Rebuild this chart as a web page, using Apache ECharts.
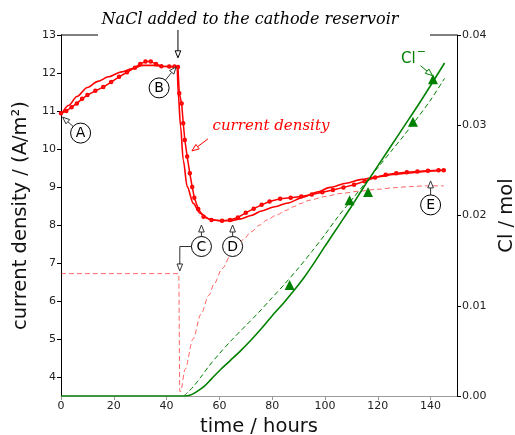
<!DOCTYPE html>
<html>
<head>
<meta charset="utf-8">
<script src="https://cdn.jsdelivr.net/npm/echarts@6/dist/echarts.min.js"></script>
<style>html,body{margin:0;padding:0;background:#fff}#main{width:515px;height:435px}</style>
</head>
<body>
<div id="main"></div>
<script>
// ---- data ----
const timeModel = [0,3,6,10,14,18,23,27,31,35,40,44,44.4,45.3,46.3,47.8,50.1,52.6,56.4,60.2,64,68,72,76,81,86,92,97,102,108,114,120,126,132,138,145];
const cdModel   = [10.9,11.15,11.38,11.62,11.78,11.9,12.03,12.12,12.2,12.2,12.17,12.16,11.47,10.59,9.71,9.01,8.57,8.31,8.15,8.11,8.11,8.16,8.25,8.37,8.48,8.58,8.74,8.87,8.99,9.1,9.2,9.27,9.33,9.37,9.41,9.44];

const timeData = [0,2,4,6,8,10,13,16,19,22,25,28,30,32,34,36,38,41,43,44.3,44.8,45.7,46.3,46.9,47.8,48.8,49.7,50.5,52,54,57,61,64,67,70,73,76,79,83,87,91,95,99,103,107,111,115,119,123,127,131,135,139,143,145];
const cdData   = [10.94,11.0,11.1,11.2,11.32,11.42,11.53,11.63,11.76,11.9,12.02,12.14,12.24,12.3,12.3,12.24,12.18,12.17,12.17,12.16,11.47,11.2,10.68,10.24,9.8,9.36,9.0,8.72,8.42,8.22,8.13,8.11,8.13,8.2,8.32,8.43,8.53,8.62,8.69,8.72,8.75,8.8,8.86,8.92,8.99,9.06,9.15,9.25,9.32,9.36,9.39,9.41,9.43,9.44,9.44];

const timeDash = [0,44.6,45.0,45.3,47,50,53,56,58,61,65,69,72,75.3,78,81.6,85,88,91,94,100,106,113,120,126,132,138,145];
const cdDash   = [6.72,6.72,3.62,3.62,4.2,5.0,5.65,6.15,6.45,6.85,7.3,7.61,7.82,8.0,8.13,8.26,8.38,8.48,8.57,8.65,8.75,8.83,8.89,8.94,8.98,9.01,9.03,9.03];

const timeCl  = [0,47,49,51,54,57,60,64,68,72,76,80,84,88,92,96,100,105,110,115,120,125,130,135,140,145.3];
const clSolid = [0,0,0.0001,0.0004,0.0010,0.0019,0.0028,0.0039,0.0050,0.0062,0.0075,0.0089,0.0102,0.0116,0.0131,0.0148,0.0166,0.0188,0.0210,0.0233,0.0255,0.0277,0.0299,0.0321,0.0344,0.0369];

const timeClDash = [46.5,48,50,53,56,60,65,70,75,80,85,90,95,100,105,110,115,120,125,130,135,140,145.3];
const clDash     = [0,0.0004,0.0010,0.0021,0.0033,0.0047,0.0063,0.0078,0.0093,0.0109,0.0125,0.0142,0.0160,0.0179,0.0199,0.0217,0.0235,0.0253,0.0271,0.0289,0.0308,0.0328,0.0352];

const timeClPts = [86.6,109.3,116.3,133.3,140.9];
const clPts     = [0.0123,0.0217,0.0226,0.0304,0.0351];

const xTicks  = [0,20,40,60,80,100,120,140];
const cdTicks = [4,5,6,7,8,9,10,11,12,13];
const clTicks = [0,0.01,0.02,0.03,0.04];

const zip = (a, b) => a.map((v, i) => [v, b[i]]);

const FONT = 'DejaVu Sans';
const RED = '#ff0000', GREEN = '#008000';

const chart = echarts.init(document.getElementById('main'), null, {renderer: 'canvas'});

chart.setOption({
  animation: false,
  backgroundColor: '#fff',
  grid: {left: 61, top: 35, right: 58, bottom: 39, outerBoundsMode: 'none', containLabel: false},
  xAxis: {
    type: 'value', min: 0, max: 150,
    axisLine: {show: true, lineStyle: {color: '#9a9a9a', width: 1}},
    axisTick: {show: true, length: 4, customValues: xTicks, lineStyle: {color: '#9a9a9a'}},
    axisLabel: {customValues: xTicks, fontSize: 11, fontFamily: FONT, color: '#222', margin: 5},
    splitLine: {show: false},
    name: 'time / hours', nameLocation: 'middle', nameGap: 15,
    nameTextStyle: {fontSize: 19.5, fontFamily: FONT, color: '#111'}
  },
  yAxis: [{
    type: 'value', min: 3.5, max: 13, position: 'left',
    axisLine: {show: true, onZero: false, lineStyle: {color: '#000', width: 1}},
    axisTick: {show: true, length: 4, customValues: cdTicks, lineStyle: {color: '#000'}},
    axisLabel: {customValues: cdTicks, fontSize: 11, fontFamily: FONT, color: '#222', margin: 5},
    splitLine: {show: false},
    name: 'current density / (A/m²)', nameLocation: 'middle', nameGap: 29, nameRotate: 90,
    nameTextStyle: {fontSize: 19.5, fontFamily: FONT, color: '#111'}
  }, {
    type: 'value', min: 0, max: 0.04, position: 'right',
    axisLine: {show: true, onZero: false, lineStyle: {color: '#000', width: 1}},
    axisTick: {show: true, length: 4, customValues: clTicks, lineStyle: {color: '#000'}},
    axisLabel: {customValues: clTicks, fontSize: 11, fontFamily: FONT, color: '#222', margin: 5,
      formatter: v => v.toFixed(2)},
    splitLine: {show: false},
    name: 'Cl / mol', nameLocation: 'middle', nameGap: 29, nameRotate: 90,
    nameTextStyle: {fontSize: 19.5, fontFamily: FONT, color: '#111'}
  }],
  series: [
    {name: 'model dashed', type: 'line', data: zip(timeDash, cdDash), showSymbol: false, smooth: 0.3, smoothMonotone: 'x',
     lineStyle: {color: 'rgba(255,0,0,0.6)', width: 1, type: [5, 3]}, z: 2},
    {name: 'model', type: 'line', data: zip(timeModel, cdModel), showSymbol: false, smooth: 0.3, smoothMonotone: 'x',
     lineStyle: {color: RED, width: 1.6}, z: 3},
    {name: 'current density', type: 'line', data: zip(timeData, cdData), symbol: 'emptyCircle', symbolSize: 2.5,
     itemStyle: {color: RED, borderWidth: 0.8}, lineStyle: {color: RED, width: 1.5}, z: 4},
    {name: 'Cl model dashed', type: 'line', yAxisIndex: 1, data: zip(timeClDash, clDash), showSymbol: false, smooth: 0.3,
     lineStyle: {color: GREEN, width: 1, type: [5, 3]}, z: 5},
    {name: 'Cl model', type: 'line', yAxisIndex: 1, data: zip(timeCl, clSolid), showSymbol: false, smooth: 0.3,
     lineStyle: {color: GREEN, width: 1.6}, z: 6},
    {name: 'Cl', type: 'scatter', yAxisIndex: 1, data: zip(timeClPts, clPts), symbol: 'triangle', symbolSize: 10,
     itemStyle: {color: GREEN, opacity: 1}, z: 7}
  ]
});

// ---- annotations ----
const P = (h, v, yi) => chart.convertToPixel({xAxisIndex: 0, yAxisIndex: yi || 0}, [h, v]);
const els = [];
function arrow(x1, y1, x2, y2, color) {
  const dx = x2 - x1, dy = y2 - y1, d = Math.hypot(dx, dy), ux = dx / d, uy = dy / d;
  const L = 7, W = 2.8;
  const bx = x2 - ux * L, by = y2 - uy * L;
  els.push({type: 'line', z: 100, shape: {x1: x1, y1: y1, x2: bx, y2: by}, style: {stroke: color, lineWidth: 1}});
  els.push({type: 'polygon', z: 101, shape: {points: [[x2, y2], [bx - uy * W, by + ux * W], [bx + uy * W, by - ux * W]]},
    style: {fill: '#fff', stroke: color, lineWidth: 1}});
}
function circled(letter, cx, cy) {
  els.push({type: 'circle', z: 102, shape: {cx: cx, cy: cy, r: 10}, style: {fill: '#fff', stroke: '#000', lineWidth: 1}});
  els.push({type: 'text', z: 103, style: {text: letter, x: cx, y: cy + 0.5, align: 'center', verticalAlign: 'middle',
    fontSize: 14, fontFamily: FONT, fill: '#000'}});
}
function circledArrow(letter, tip, off) {
  const cx = tip[0] + off[0], cy = tip[1] + off[1];
  const dx = tip[0] - cx, dy = tip[1] - cy, d = Math.hypot(dx, dy);
  arrow(cx + dx / d * 10, cy + dy / d * 10, tip[0], tip[1], '#333');
  circled(letter, cx, cy);
  return [cx, cy];
}

// top spine with the title box over it
const tl = P(0, 13), tr = P(150, 13);
els.push({type: 'line', z: 90, shape: {x1: tl[0], y1: tl[1], x2: tr[0], y2: tr[1]}, style: {stroke: '#000', lineWidth: 1}});
els.push({type: 'rect', z: 91, shape: {x: 98, y: 4, width: 332, height: 33}, style: {fill: '#fff'}});
els.push({type: 'text', z: 92, style: {text: 'NaCl added to the cathode reservoir', x: 250, y: 20, align: 'center',
  verticalAlign: 'middle', fontSize: 16, fontStyle: 'italic', fontFamily: 'DejaVu Serif', fill: '#000'}});
const nt = P(44.3, 12.4);
arrow(nt[0], 30, nt[0], nt[1], '#000');

// current density label
const cdTip = P(49.6, 9.95);
arrow(cdTip[0] + 16, cdTip[1] - 12, cdTip[0], cdTip[1], RED);
els.push({type: 'text', z: 100, style: {text: 'current density', x: cdTip[0] + 79, y: cdTip[1] - 25, align: 'center',
  verticalAlign: 'middle', fontSize: 15, fontStyle: 'italic', fontFamily: 'DejaVu Serif', fill: RED}});

// Cl- label
const clTip = P(140.7, 0.0355, 1);
arrow(clTip[0] - 12, clTip[1] - 10, clTip[0], clTip[1], GREEN);
els.push({type: 'text', z: 100, style: {text: '{a|Cl}{b|−}', x: clTip[0] - 19, y: clTip[1] - 19, align: 'center',
  verticalAlign: 'middle', fill: GREEN,
  rich: {a: {fontSize: 15, fontFamily: FONT, fill: GREEN, verticalAlign: 'bottom'},
         b: {fontSize: 11, fontFamily: FONT, fill: GREEN, verticalAlign: 'bottom', padding: [0, 0, 8, 1]}}}});

// circled letters
circledArrow('A', P(0.6, 10.84), [18, 16]);
circledArrow('B', P(43.6, 12.16), [-17, 21]);
const cC = circledArrow('C', P(53.2, 8.0), [0, 21.5]);
circledArrow('D', P(65, 8.0), [0, 21.5]);
circledArrow('E', P(140, 9.16), [0, 24]);
// C elbow connector to the dashed curve
const cTip2 = P(45, 6.79);
els.push({type: 'polyline', z: 100, shape: {points: [[cC[0] - 10, cC[1]], [cTip2[0], cC[1]], [cTip2[0], cTip2[1] - 7]]},
  style: {stroke: '#333', lineWidth: 1, fill: null}});
arrow(cTip2[0], cTip2[1] - 8, cTip2[0], cTip2[1], '#333');

chart.setOption({graphic: {elements: els}});
</script>
</body>
</html>
